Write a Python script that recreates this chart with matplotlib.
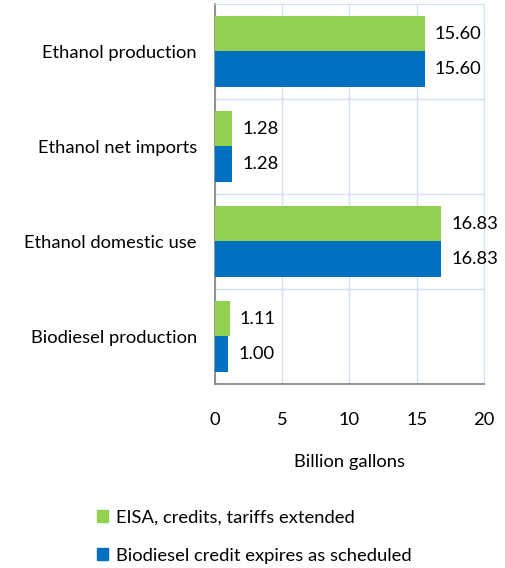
import matplotlib.pyplot as plt
from matplotlib.patches import Patch

# Data
categories = ["Ethanol production", "Ethanol net imports", "Ethanol domestic use", "Biodiesel production"]
eisa = [15.60, 1.28, 16.83, 1.11]
biodiesel = [15.60, 1.28, 16.83, 1.00]
series_names = ["EISA, credits, tariffs extended", "Biodiesel credit expires as scheduled"]
xticks = [0, 5, 10, 15, 20]

green = "#92D050"
blue = "#0070C0"
grid_col = "#D4E0F4"
fs = 13.2

plt.rcParams['font.family'] = ['Lato', 'DejaVu Sans']

fig = plt.figure(figsize=(5.05, 5.68), dpi=100)
ax = fig.add_axes([0.4257, 0.324, 0.5326, 0.669])

n = len(categories)
pos = list(range(n))
h = 0.375
ax.barh([p - h / 2 for p in pos], eisa, height=h, color=green, zorder=3)
ax.barh([p + h / 2 for p in pos], biodiesel, height=h, color=blue, zorder=3)

for p, v in zip(pos, eisa):
    ax.text(v + 0.75, p - h / 2, f"{v:.2f}", va="center", ha="left", fontsize=fs)
for p, v in zip(pos, biodiesel):
    ax.text(v + 0.75, p + h / 2, f"{v:.2f}", va="center", ha="left", fontsize=fs)

ax.set_ylim(n - 0.5, -0.5)
ax.set_xlim(0, 20)
ax.set_yticks(pos)
ax.set_yticklabels(categories, fontsize=fs)
ax.set_yticks([p + 0.5 for p in pos[:-1]], minor=True)
ax.set_xticks(xticks)
ax.set_xticklabels([str(t) for t in xticks], fontsize=fs)
ax.tick_params(axis="y", which="both", length=0, pad=13)
ax.tick_params(axis="x", length=0, pad=20)

ax.grid(axis="x", color=grid_col, linewidth=1, zorder=0)
ax.grid(axis="y", which="minor", color=grid_col, linewidth=1, zorder=0)

for s in ["top", "right"]:
    ax.spines[s].set_color(grid_col)
for s in ["left", "bottom"]:
    ax.spines[s].set_color("#808080")
    ax.spines[s].set_linewidth(1.2)

ax.set_xlabel("Billion gallons", fontsize=fs, labelpad=19)

handles = [Patch(color=green), Patch(color=blue)]
fig.legend(handles, series_names, loc="upper left", bbox_to_anchor=(0.16, 0.132),
           frameon=False, fontsize=fs, handlelength=0.6, handleheight=0.6,
           handletextpad=0.4, labelspacing=1.2)

fig.savefig("out.png", dpi=100)
